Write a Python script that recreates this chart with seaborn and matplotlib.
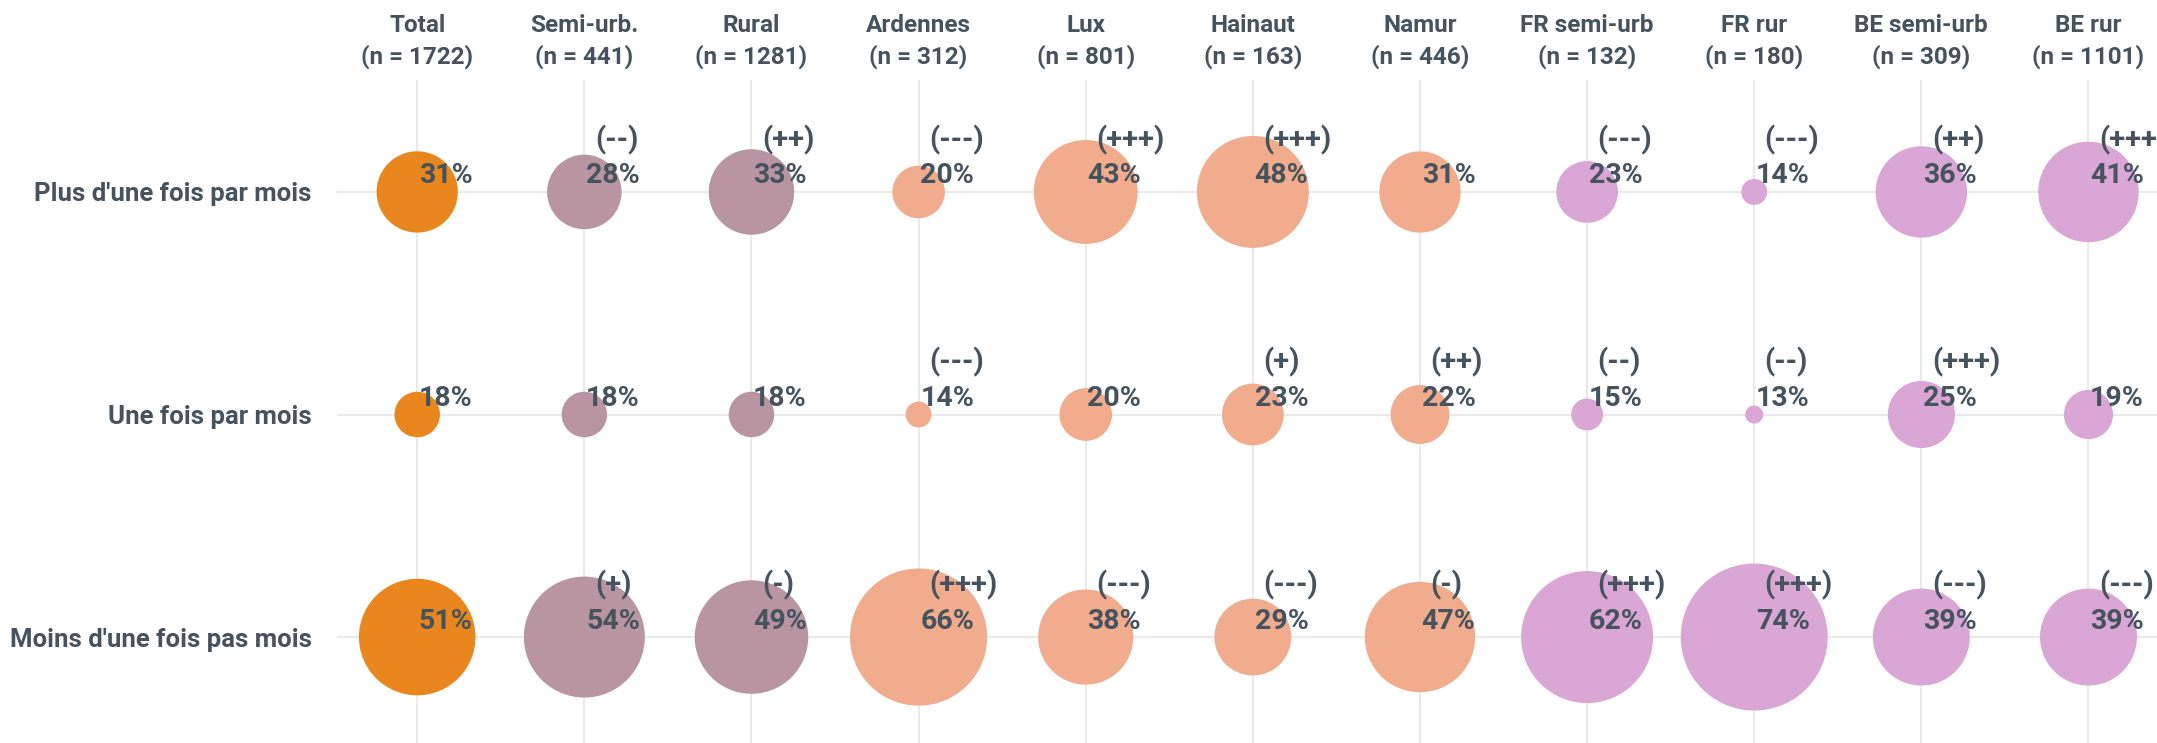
"""
Fréquence par zone / province : bubble chart (seaborn)
"""
import matplotlib
matplotlib.use('Agg')
import matplotlib.pyplot as plt
import seaborn as sns
import pandas as pd

# colonnes (groupes) et effectifs
columns = ['Total', 'Semi-urb.', 'Rural', 'Ardennes', 'Lux', 'Hainaut', 'Namur',
           'FR semi-urb', 'FR rur', 'BE semi-urb', 'BE rur']
n_sizes = [1722, 441, 1281, 312, 801, 163, 446, 132, 180, 309, 1101]

# lignes (réponses)
rows = ["Plus d'une fois par mois", 'Une fois par mois', "Moins d'une fois pas mois"]

# pourcentages par ligne
plus_values = [31, 28, 33, 20, 43, 48, 31, 23, 14, 36, 41]
une_values = [18, 18, 18, 14, 20, 23, 22, 15, 13, 25, 19]
moins_values = [51, 54, 49, 66, 38, 29, 47, 62, 74, 39, 39]

# significativité
plus_sig = ['', '(--)', '(++)', '(---)', '(+++)', '(+++)', '', '(---)', '(---)', '(++)', '(+++)']
une_sig = ['', '', '', '(---)', '', '(+)', '(++)', '(--)', '(--)', '(+++)', '']
moins_sig = ['', '(+)', '(-)', '(+++)', '(---)', '(---)', '(-)', '(+++)', '(+++)', '(---)', '(---)']

palette = {
    'Total': '#E9871E',
    'Semi-urb.': '#B895A0', 'Rural': '#B895A0',
    'Ardennes': '#F0AC8C', 'Lux': '#F0AC8C', 'Hainaut': '#F0AC8C', 'Namur': '#F0AC8C',
    'FR semi-urb': '#D9A6D6', 'FR rur': '#D9A6D6', 'BE semi-urb': '#D9A6D6', 'BE rur': '#D9A6D6',
}
TEXT = '#45535E'

# table longue
records = []
for row, vals, sigs in zip(rows, [plus_values, une_values, moins_values],
                           [plus_sig, une_sig, moins_sig]):
    for col, v, s in zip(columns, vals, sigs):
        records.append({'row': row, 'col': col, 'value': v, 'sig': s})
df = pd.DataFrame(records)
df['x'] = df['col'].map({c: i for i, c in enumerate(columns)})
df['y'] = df['row'].map({r: i for i, r in enumerate(rows)})

sns.set_theme(style='white')
plt.rcParams['font.family'] = ['Roboto', 'DejaVu Sans']
plt.rcParams['font.weight'] = 'bold'

fig = plt.figure(figsize=(21.57, 7.43), dpi=100)
ax = fig.add_axes([337 / 2157, 0, 1 - 337 / 2157, 663 / 743])

sns.scatterplot(data=df, x='x', y='y', hue='col', palette=palette,
                size='value', sizes=(168, 11200), size_norm=(13, 74),
                linewidth=0, alpha=1, legend=False, ax=ax, zorder=3)

for _, r in df.iterrows():
    ax.annotate(f"{r['value']}%", (r['x'], r['y']), xytext=(1.2, 11.5),
                textcoords='offset points', ha='left', va='center',
                fontsize=20.5, fontweight='bold', color=TEXT, zorder=5)
    if r['sig']:
        ax.annotate(r['sig'], (r['x'], r['y']), xytext=(7.5, 37.5),
                    textcoords='offset points', ha='left', va='center',
                    fontsize=21, fontweight='bold', color=TEXT, zorder=5)

ax.set_xlim(-0.48, 10.41)
ax.set_ylim(2.476, -0.503)

ax.set_xticks(range(len(columns)),
              labels=[f'{c}\n(n = {n})' for c, n in zip(columns, n_sizes)],
              fontsize=17.5, fontweight='bold', color=TEXT, linespacing=1.4)
ax.set_yticks(range(len(rows)), labels=rows, fontsize=18.5, fontweight='bold', color=TEXT)
ax.xaxis.tick_top()
ax.tick_params(axis='x', length=0, pad=8)
ax.tick_params(axis='y', length=0, pad=18)
ax.set_xlabel('')
ax.set_ylabel('')
ax.grid(True, color='#E6E6E6', linewidth=1.2, zorder=0)
ax.set_axisbelow(True)
for sp in ax.spines.values():
    sp.set_visible(False)

plt.savefig('out.png', dpi=100)
plt.close()
